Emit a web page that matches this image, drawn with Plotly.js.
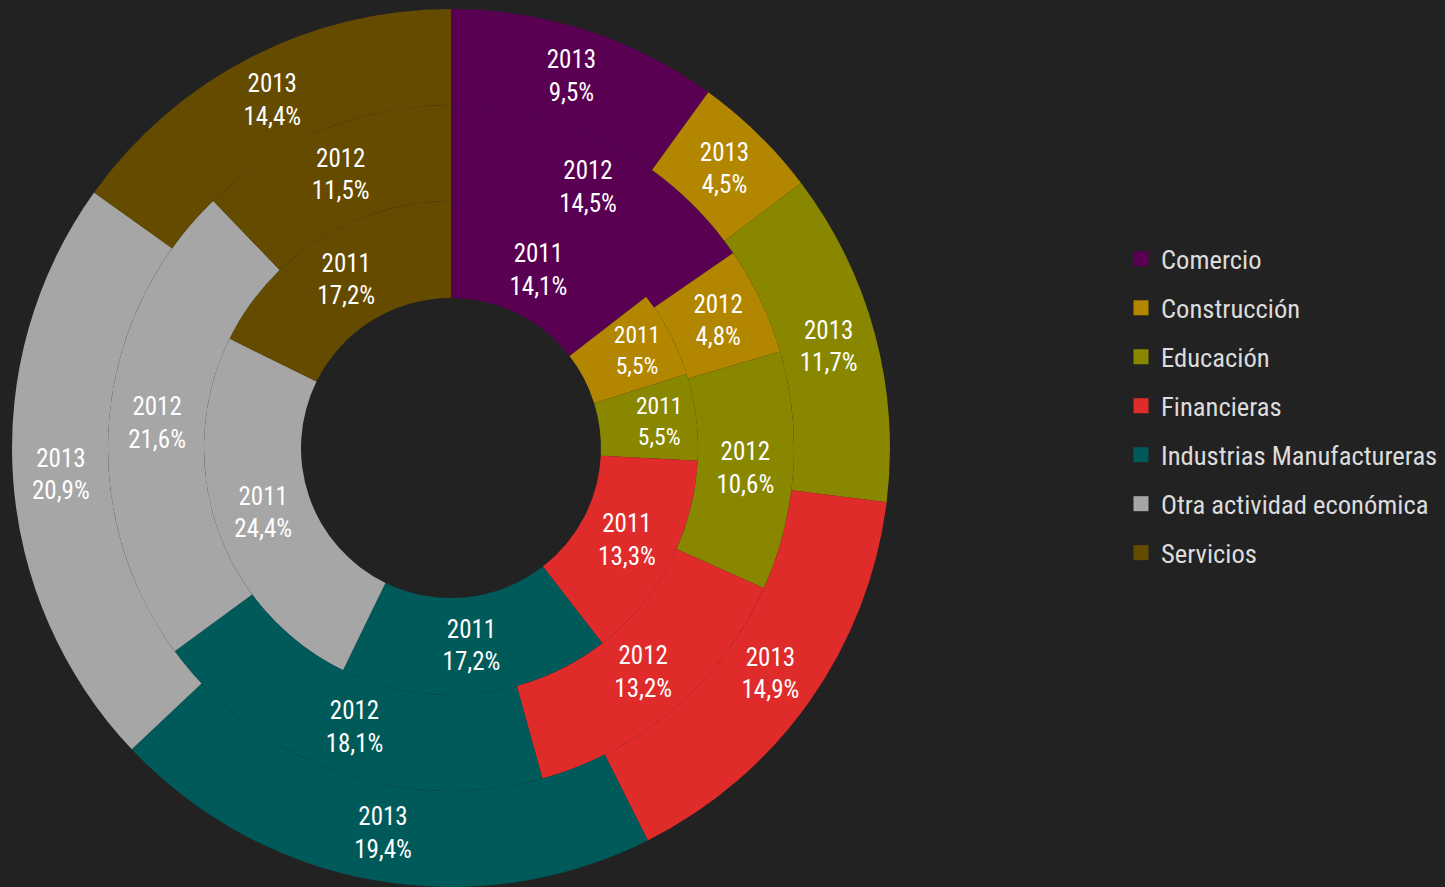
<!DOCTYPE html>
<html>
<head>
<meta charset="utf-8">
<script src="https://cdn.plot.ly/plotly-3.0.1.min.js"></script>
<style>
html,body{margin:0;padding:0;background:#222222;}
#chart{width:1445px;height:887px;}
</style>
</head>
<body>
<div id="chart"></div>
<script>
const categories = ["Comercio","Construcción","Educación","Financieras","Industrias Manufactureras","Otra actividad económica","Servicios"];
const values2011 = [14.1, 5.5, 5.5, 13.3, 17.2, 24.4, 17.2];
const values2012 = [14.5, 4.8, 10.6, 13.2, 18.1, 21.6, 11.5];
const values2013 = [9.5, 4.5, 11.7, 14.9, 19.4, 20.9, 14.4];
const years = ["2011","2012","2013"];
const colors = ["#5a0052","#b38600","#898700","#e02b2b","#005a5a","#a6a6a6","#644b00"];

const W = 1445, H = 887;
const cx = 451, cy = 448;
const rings = [
  {year: years[0], vals: values2011, rOut: 247, rIn: 150},
  {year: years[1], vals: values2012, rOut: 343, rIn: 247},
  {year: years[2], vals: values2013, rOut: 439, rIn: 343}
];
const font = "'Roboto Condensed', 'Liberation Sans Narrow', 'Arial Narrow', sans-serif";

const traces = rings.map(r => ({
  type: 'pie',
  labels: categories,
  values: r.vals,
  sort: false,
  direction: 'clockwise',
  rotation: 0,
  hole: r.rIn / r.rOut,
  domain: {
    x: [(cx - r.rOut) / W, (cx + r.rOut) / W],
    y: [(H - cy - r.rOut) / H, (H - cy + r.rOut) / H]
  },
  marker: {colors: colors, line: {width: 0}},
  texttemplate: r.year + '<br>%{value:.1f}%',
  textposition: 'inside',
  insidetextorientation: 'horizontal',
  textfont: {color: '#ffffff', size: 25, family: font},
  hovertemplate: '%{label}<br>' + r.year + ': %{value:.1f}%<extra></extra>',
  showlegend: false,
  name: r.year
}));

categories.forEach((c, i) => {
  traces.push({
    type: 'scatter',
    mode: 'markers',
    x: [null], y: [null],
    name: c,
    legendgroup: 'g' + i,
    marker: {symbol: 'square', size: 15, color: colors[i]},
    showlegend: true,
    hoverinfo: 'skip'
  });
});

const layout = {
  width: W, height: H,
  paper_bgcolor: '#222222',
  plot_bgcolor: '#222222',
  margin: {l: 0, r: 0, t: 0, b: 0, autoexpand: false},
  separators: ',.',
  xaxis: {visible: false},
  yaxis: {visible: false},
  showlegend: true,
  legend: {
    x: 1121 / W, xanchor: 'left',
    y: (H - 406) / H, yanchor: 'middle',
    traceorder: 'grouped',
    tracegroupgap: 11.4,
    font: {color: '#dcdcdc', size: 26.6, family: font},
    bgcolor: 'rgba(0,0,0,0)'
  }
};

Plotly.newPlot('chart', traces, layout, {displayModeBar: false, responsive: false});
</script>
</body>
</html>
